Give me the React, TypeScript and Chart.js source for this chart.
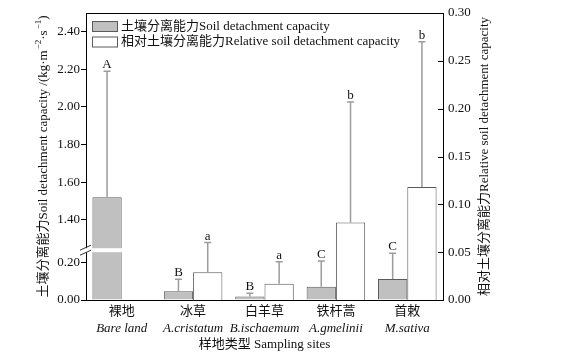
import React, { useEffect, useRef } from "react";
import { Chart, registerables } from "chart.js";
Chart.register(...registerables);

const categoriesZh = ["裸地", "冰草", "白羊草", "铁杆蒿", "首敕"];
const categoriesLatin = ["Bare land", "A.cristatum", "B.ischaemum", "A.gmelinii", "M.sativa"];
const sdc = [1.52, 0.046, 0.018, 0.071, 0.112];
const sdcErr = [0.67, 0.064, 0.018, 0.137, 0.137];
const sdcLetters = ["A", "B", "B", "C", "C"];
const rsdc: (number | null)[] = [null, 0.029, 0.017, 0.081, 0.118];
const rsdcErr: (number | null)[] = [null, 0.031, 0.023, 0.126, 0.152];
const rsdcLetters = ["", "a", "a", "b", "b"];
const leftTicks = [0, 0.2, 1.4, 1.6, 1.8, 2.0, 2.2, 2.4];
const rightTicks = [0, 0.05, 0.1, 0.15, 0.2, 0.25, 0.3];
const legendLabels = ["土壤分离能力Soil detachment capacity", "相对土壤分离能力Relative soil detachment capacity"];
const xTitle = "样地类型 Sampling sites";
const rightTitle = "相对土壤分离能力Relative soil detachment capacity";

// broken left axis: lower segment is linear, upper segment shifted down
const BREAK_AT = 0.265; // display value where the break is drawn
const UPPER_SHIFT = 0.973; // 1.40 is drawn at display 0.427
const LEFT_MAX = 2.5;

const toD = (v: number) => (v < 0.8 ? v : v - UPPER_SHIFT);
const fromD = (d: number) => (d < BREAK_AT ? d : d + UPPER_SHIFT);

const FONT = "'Liberation Serif', 'Noto Sans CJK SC', serif";
const GRAY = "#c0c0c0";
const EDGE = "#5a5a5a";
const ERR = "#9c9c9c";

const overlay = {
  id: "overlay",
  afterDraw(chart: any) {
    const ctx: CanvasRenderingContext2D = chart.ctx;
    const area = chart.chartArea;
    const y = chart.scales.y;
    const y1 = chart.scales.y1;
    ctx.save();

    // error bars + letters
    const drawErr = (dsIndex: number, vals: (number | null)[], errs: (number | null)[], letters: string[], scale: any, map: (v: number) => number) => {
      const meta = chart.getDatasetMeta(dsIndex);
      meta.data.forEach((bar: any, i: number) => {
        const v = vals[i];
        const e = errs[i];
        if (v == null || e == null) return;
        const x = bar.x;
        const yTop = scale.getPixelForValue(map(v + e));
        const yBar = scale.getPixelForValue(map(v));
        ctx.strokeStyle = ERR;
        ctx.lineWidth = 1.5;
        ctx.beginPath();
        ctx.moveTo(x, yBar);
        ctx.lineTo(x, yTop);
        ctx.moveTo(x - 3.5, yTop);
        ctx.lineTo(x + 3.5, yTop);
        ctx.stroke();
        ctx.fillStyle = "#111";
        ctx.font = `13px ${FONT}`;
        ctx.textAlign = "center";
        ctx.textBaseline = "alphabetic";
        ctx.fillText(letters[i], x, yTop - 3);
      });
    };
    drawErr(0, sdc, sdcErr, sdcLetters, y, toD);
    drawErr(1, rsdc, rsdcErr, rsdcLetters, y1, (v) => v);

    // axis break
    const bar0 = chart.getDatasetMeta(0).data[0];
    const bc = y.getPixelForValue(BREAK_AT);
    const bTop = bc - 2;
    const bBot = bc + 2;
    ctx.fillStyle = "#ffffff";
    ctx.fillRect(area.left - 1.5, bTop, bar0.x + bar0.width / 2 + 1 - (area.left - 1.5), bBot - bTop);
    ctx.strokeStyle = "#333";
    ctx.lineWidth = 1;
    ctx.beginPath();
    ctx.moveTo(area.left - 6, bTop + 2);
    ctx.lineTo(area.left + 5, bTop - 3);
    ctx.moveTo(area.left - 6, bBot + 3);
    ctx.lineTo(area.left + 5, bBot - 2);
    ctx.stroke();

    // top frame
    ctx.strokeStyle = "#000";
    ctx.lineWidth = 1;
    ctx.beginPath();
    ctx.moveTo(area.left, area.top + 0.5);
    ctx.lineTo(area.right, area.top + 0.5);
    ctx.stroke();

    // right inward ticks
    ctx.beginPath();
    rightTicks.forEach((t) => {
      const py = Math.round(y1.getPixelForValue(t)) + 0.5;
      ctx.moveTo(area.right - 5, py);
      ctx.lineTo(area.right, py);
    });
    ctx.stroke();

    // legend
    const lx = 92;
    const rows = [26, 41.5];
    const fills = [GRAY, "#ffffff"];
    rows.forEach((ry, i) => {
      ctx.fillStyle = fills[i];
      ctx.fillRect(lx, ry - 5, 25, 10);
      ctx.strokeStyle = EDGE;
      ctx.lineWidth = 1;
      ctx.strokeRect(lx + 0.5, ry - 5 + 0.5, 25, 10);
      ctx.fillStyle = "#111";
      ctx.font = `13px ${FONT}`;
      ctx.textAlign = "left";
      ctx.textBaseline = "middle";
      ctx.fillText(legendLabels[i], lx + 29, ry + 0.5);
    });

    // x category labels
    const xs = chart.scales.x;
    categoriesZh.forEach((c, i) => {
      const px = xs.getPixelForValue(i);
      ctx.fillStyle = "#111";
      ctx.textAlign = "center";
      ctx.textBaseline = "middle";
      ctx.font = `13px ${FONT}`;
      ctx.fillText(c, px, 312);
      ctx.font = `italic 13px ${FONT}`;
      ctx.fillText(categoriesLatin[i], px, 328.5);
    });
    ctx.font = `13px ${FONT}`;
    ctx.fillText(xTitle, (area.left + area.right) / 2, 345);

    // left title with superscripts
    const segs: [string, boolean][] = [
      ["土壤分离能力Soil detachment capacity /(kg·m", false],
      ["−2", true],
      ["·s", false],
      ["−1", true],
      [")", false],
    ];
    const mainFont = `13px ${FONT}`;
    const supFont = `9px ${FONT}`;
    let total = 0;
    segs.forEach(([t, s]) => {
      ctx.font = s ? supFont : mainFont;
      total += ctx.measureText(t).width + (s ? 1 : 0);
    });
    ctx.save();
    ctx.translate(44, (area.top + area.bottom) / 2);
    ctx.rotate(-Math.PI / 2);
    ctx.textAlign = "left";
    ctx.textBaseline = "middle";
    let cx = -total / 2;
    segs.forEach(([t, s]) => {
      ctx.font = s ? supFont : mainFont;
      ctx.fillText(t, cx + (s ? 1 : 0), s ? -5 : 0);
      cx += ctx.measureText(t).width + (s ? 1 : 0);
    });
    ctx.restore();

    // right title
    ctx.save();
    ctx.translate(485, (area.top + area.bottom) / 2);
    ctx.rotate(-Math.PI / 2);
    ctx.textAlign = "center";
    ctx.textBaseline = "middle";
    ctx.font = mainFont;
    ctx.fillText(rightTitle, 0, 0);
    ctx.restore();

    ctx.restore();
  },
};

export default function App() {
  const ref = useRef<HTMLCanvasElement>(null);
  useEffect(() => {
    if (!ref.current) return;
    const chart = new Chart(ref.current, {
      type: "bar",
      data: {
        labels: categoriesZh,
        datasets: [
          {
            label: legendLabels[0],
            data: sdc.map(toD),
            backgroundColor: GRAY,
            borderColor: EDGE,
            borderWidth: 1,
            yAxisID: "y",
          },
          {
            label: legendLabels[1],
            data: rsdc,
            backgroundColor: "#ffffff",
            borderColor: EDGE,
            borderWidth: 1,
            yAxisID: "y1",
          },
        ],
      },
      options: {
        animation: false,
        responsive: false,
        maintainAspectRatio: false,
        layout: { padding: { top: 13, left: 0, right: 0, bottom: 0 } },
        datasets: { bar: { categoryPercentage: 0.82, barPercentage: 1.0 } },
        plugins: { legend: { display: false }, tooltip: { enabled: false } },
        scales: {
          x: {
            grid: { display: false },
            border: { display: true, color: "#000", width: 1 },
            ticks: { display: false },
            afterFit: (s: any) => {
              s.height = 57;
            },
          },
          y: {
            position: "left",
            min: 0,
            max: toD(LEFT_MAX),
            afterBuildTicks: (s: any) => {
              s.ticks = leftTicks.map((v) => ({ value: toD(v) }));
            },
            afterFit: (s: any) => {
              s.width = 86;
            },
            grid: { drawOnChartArea: false, drawTicks: true, tickLength: 5, color: "#000" },
            border: { display: true, color: "#000", width: 1 },
            ticks: {
              padding: 1,
              color: "#111",
              font: { family: FONT, size: 13 },
              callback: (v: any) => fromD(Number(v)).toFixed(2),
            },
          },
          y1: {
            position: "right",
            min: 0,
            max: 0.3,
            afterBuildTicks: (s: any) => {
              s.ticks = rightTicks.map((v) => ({ value: v }));
            },
            afterFit: (s: any) => {
              s.width = 118;
            },
            grid: { display: false, drawTicks: false },
            border: { display: true, color: "#000", width: 1 },
            ticks: {
              padding: 5,
              color: "#111",
              font: { family: FONT, size: 13 },
              callback: (v: any) => Number(v).toFixed(2),
            },
          },
        },
      },
      plugins: [overlay],
    });
    return () => chart.destroy();
  }, []);
  return (
    <div style={{ position: "fixed", left: 0, top: 0, width: 561, height: 357, background: "#fff" }}>
      <canvas ref={ref} width={561} height={357} style={{ width: 561, height: 357 }} />
    </div>
  );
}
